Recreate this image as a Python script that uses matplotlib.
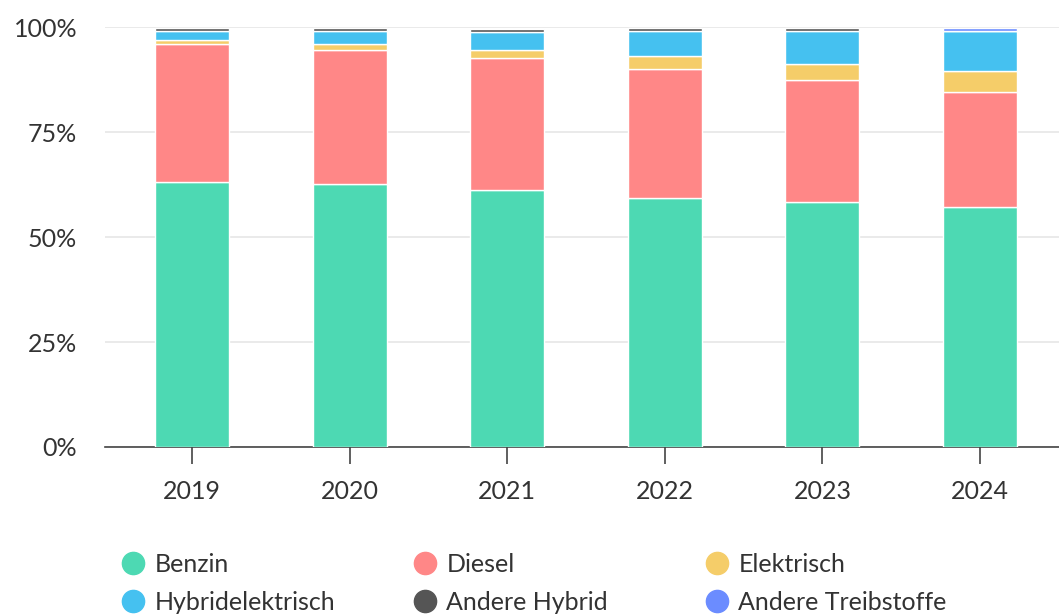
import matplotlib
matplotlib.use("Agg")
import matplotlib.pyplot as plt
from matplotlib.lines import Line2D
import numpy as np

years = ["2019", "2020", "2021", "2022", "2023", "2024"]
benzin = [63.1, 62.6, 61.3, 59.4, 58.4, 57.2]
diesel = [33.0, 32.1, 31.3, 30.6, 29.0, 27.3]
elektrisch = [0.9, 1.3, 2.1, 3.1, 3.9, 5.2]
hybridelektrisch = [2.2, 3.0, 4.1, 6.1, 7.8, 9.4]
andere_hybrid = [0.75, 0.75, 0.75, 0.75, 0.75, 0.1]
andere_treibstoffe = [0.0, 0.0, 0.0, 0.0, 0.0, 0.7]

series = [
    ("Benzin", benzin, "#4dd9b3"),
    ("Diesel", diesel, "#ff8787"),
    ("Elektrisch", elektrisch, "#f5cd69"),
    ("Hybridelektrisch", hybridelektrisch, "#45c1f0"),
    ("Andere Hybrid", andere_hybrid, "#555555"),
    ("Andere Treibstoffe", andere_treibstoffe, "#6b8cff"),
]

plt.rcParams['font.family'] = ['Lato', 'DejaVu Sans']

fig = plt.figure(figsize=(10.59, 6.14), dpi=100)
ax = fig.add_axes([105/1059, 167/614, 1 - 105/1059, (586.7 - 167)/614])

x = np.arange(len(years))
bottom = np.zeros(len(years))
for name, vals, col in series:
    v = np.array(vals)
    lw = np.where(v > 0, 1.0, 0.0)
    ax.bar(x, v, bottom=bottom, width=0.47, color=col, edgecolor="white", linewidth=lw, zorder=3)
    bottom += v

ax.set_xlim(-0.552, 5.501)
ax.set_ylim(0, 100)
ax.set_yticks([0, 25, 50, 75, 100])
ax.set_yticklabels(["0%", "25%", "50%", "75%", "100%"])
ax.set_xticks(x)
ax.set_xticklabels(years)
ax.yaxis.grid(True, color="#e6e6e6", linewidth=1.2, zorder=0)
for s in ["top", "right", "left"]:
    ax.spines[s].set_visible(False)
ax.spines["bottom"].set_color("#444444")
ax.spines["bottom"].set_linewidth(1.2)
ax.tick_params(axis="y", length=0, pad=20, labelsize=18, labelcolor="#333333")
ax.tick_params(axis="x", length=12, width=1.2, color="#444444", pad=12, labelsize=18, labelcolor="#333333")

cols = [[0, 3], [1, 4], [2, 5]]
xs = [122/1059, 414/1059, 706/1059]
for ci, idxs in enumerate(cols):
    handles = [Line2D([], [], marker="o", linestyle="", markersize=16,
                      markerfacecolor=series[i][2], markeredgecolor=series[i][2])
               for i in idxs]
    labels = [series[i][0] for i in idxs]
    leg = fig.legend(handles, labels, loc="center left", bbox_to_anchor=(xs[ci], (614-583)/614),
                     frameon=False, fontsize=18, handlelength=0.85, handletextpad=0.45,
                     borderpad=0, borderaxespad=0, labelspacing=0.6, labelcolor="#333333")

fig.savefig("out.png", dpi=100)
